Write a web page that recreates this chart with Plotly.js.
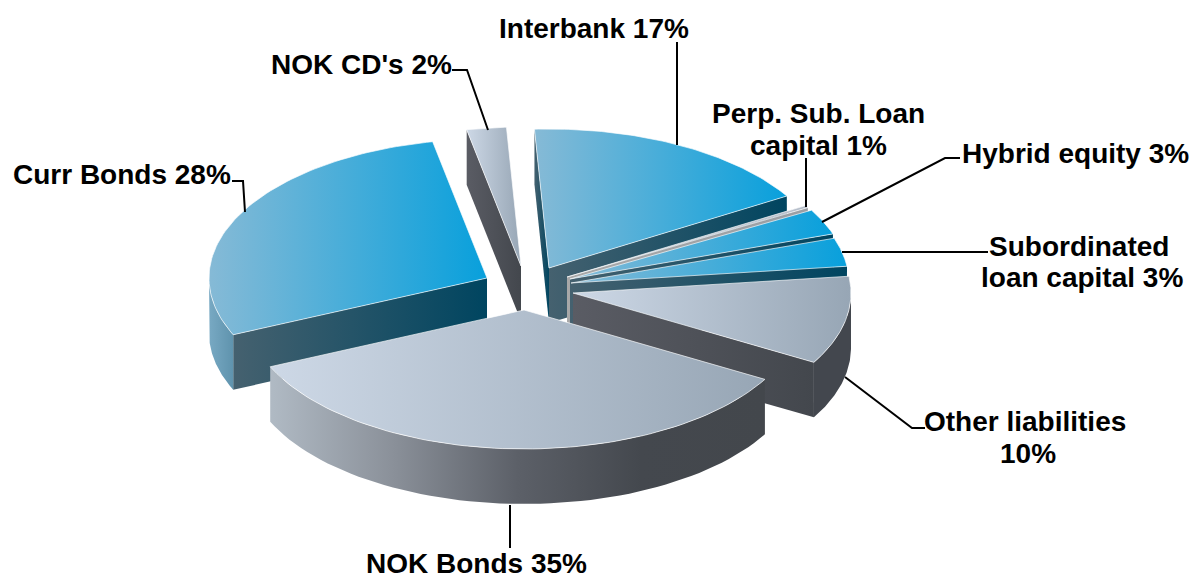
<!DOCTYPE html>
<html>
<head>
<meta charset="utf-8">
<script src="https://cdn.plot.ly/plotly-3.0.1.min.js"></script>
<style>html,body{margin:0;padding:0;background:#fff}#chart{width:1190px;height:577px}</style>
</head>
<body>
<div id="chart"></div>
<script>
// ---- data (clockwise from just left of 12 o'clock)
var categories = ["Interbank","Perp. Sub. Loan capital","Hybrid equity","Subordinated loan capital","Other liabilities","NOK Bonds","Curr Bonds","NOK CD's"];
var values = [17,1,3,3,10,35,28,2];

// ---- drawing configuration, separate from the data
var apexX = [549,567,570,571,573,524,487,521];
var apexY = [268,277,279,283,293,310,278,266];
var family = ["blue","silver","blue","blue","grey","grey","blue","grey"];
var drawOrder = [7,0,1,2,3,4,6,5];
var boundaryNudge = [0,0,-2.4,-2.3,-1.2,-0.7,-2,-1,0]; // rounded labels vs. true slice edges
var startAngle = -3, radiusX = 278, radiusY = 139, depth = 55;

var palette = {
  blue:  {top:["#86bad6","#08a0dc"], face:["#45616f","#004560"], rim:[[0,"#78a9c3"],[1,"#5f93ad"]]},
  grey:  {top:["#cdd8e6","#97a6b5"], face:["#5a5c64","#43474d"], rim:[[0,"#b0bac4"],[0.25,"#8a9099"],[0.5,"#5c6068"],[0.75,"#44484e"],[1,"#43474c"]]},
  silver:{top:["#d6dde8","#b4bdc9"], face:["#a8a8a8","#9a9ea4"], rim:[[0,"#999999"],[1,"#888888"]]}
};

var total = values.reduce(function(a,b){return a+b;},0);
function pt(i,deg,dz){
  var r = deg*Math.PI/180;
  return [apexX[i]+radiusX*Math.sin(r), apexY[i]-radiusY*Math.cos(r)+(dz||0)];
}
function poly(points,name,stops,lineColor){
  return {type:"scatter",mode:"lines",x:points.map(function(p){return p[0];}),y:points.map(function(p){return p[1];}),
    fill:"toself",fillgradient:{type:"horizontal",colorscale:stops},
    line:{color:lineColor||"rgba(0,0,0,0)",width:lineColor?1:0},
    name:name,showlegend:false,hoverinfo:"name"};
}
function two(c){return [[0,c[0]],[1,c[1]]];}

var edges=[],acc=startAngle;
values.forEach(function(v,i){
  var next=acc+v/total*360;
  edges.push([acc+boundaryNudge[i],next+boundaryNudge[i+1]]);
  acc=next;
});

var traces=[];
drawOrder.forEach(function(i){
  var a=edges[i][0],b=edges[i][1],pal=palette[family[i]],name=categories[i]+" "+values[i]+"%";
  var apex=[apexX[i],apexY[i]],apexLow=[apexX[i],apexY[i]+depth],k,pts;
  // side faces that turn towards the viewer
  var sa=Math.sin(a*Math.PI/180), sb=Math.sin(b*Math.PI/180);
  if(sa<0){traces.push(poly([apex,pt(i,a),pt(i,a,depth),apexLow,apex],name,two(pal.face)));}
  if(sb>0){traces.push(poly([apex,pt(i,b),pt(i,b,depth),apexLow,apex],name,two(pal.face)));}
  // outer rim wall on the near half
  var lo=Math.max(a,90),hi=Math.min(b,270);
  if(hi>lo){
    var up=[],down=[];
    for(k=0;k<=60;k++){var d=lo+(hi-lo)*k/60;up.push(pt(i,d));down.unshift(pt(i,d,depth));}
    pts=up.concat(down);pts.push(up[0]);
    traces.push(poly(pts,name,i===4?two(["#43474e","#43474e"]):pal.rim));
  }
  // top face
  pts=[apex];
  for(k=0;k<=80;k++){pts.push(pt(i,a+(b-a)*k/80));}
  pts.push(apex);
  traces.push(poly(pts,name,two(pal.top),"rgba(255,255,255,0.65)"));
});

var labels=[
  {t:"Interbank 17%",x:594,y:28},
  {t:"Perp. Sub. Loan",x:818,y:113},
  {t:"capital 1%",x:818,y:145},
  {t:"Hybrid equity 3%",x:1075,y:153},
  {t:"Subordinated",x:1079,y:246},
  {t:"loan capital 3%",x:1082,y:277},
  {t:"Other liabilities",x:1025,y:421},
  {t:"10%",x:1028,y:453},
  {t:"NOK Bonds 35%",x:476,y:563,h:28},
  {t:"Curr Bonds 28%",x:122,y:174},
  {t:"NOK CD's 2%",x:361,y:64}
];
var leaders=[
  "M452,70 L467,70 L488,130",
  "M677,42 L677,145",
  "M806,158 L806,207",
  "M960,158 L945,158 L822,222",
  "M988,252 L842,252",
  "M845,377 L912,428 L925,428",
  "M510,505 L510,548",
  "M232,181 L243,181 L245,212"
];

var layout={
  width:1190,height:577,margin:{l:0,r:0,t:0,b:0},paper_bgcolor:"#fff",plot_bgcolor:"#fff",showlegend:false,
  xaxis:{range:[0,1190],visible:false,fixedrange:true},
  yaxis:{range:[577,0],visible:false,fixedrange:true},
  shapes:leaders.map(function(p){return {type:"path",path:p,xref:"x",yref:"y",line:{color:"#000",width:2}};}),
  annotations:labels.map(function(l){
    var a={text:l.t,x:l.x,y:l.y,xref:"x",yref:"y",showarrow:false,align:"center",borderpad:0,
      font:{family:"Liberation Sans, Arial, sans-serif",size:28,color:"#000",weight:"bold"}};
    if(l.h){a.height=l.h;}
    return a;})
};
Plotly.newPlot("chart",traces,layout,{displayModeBar:false});
</script>
</body>
</html>
